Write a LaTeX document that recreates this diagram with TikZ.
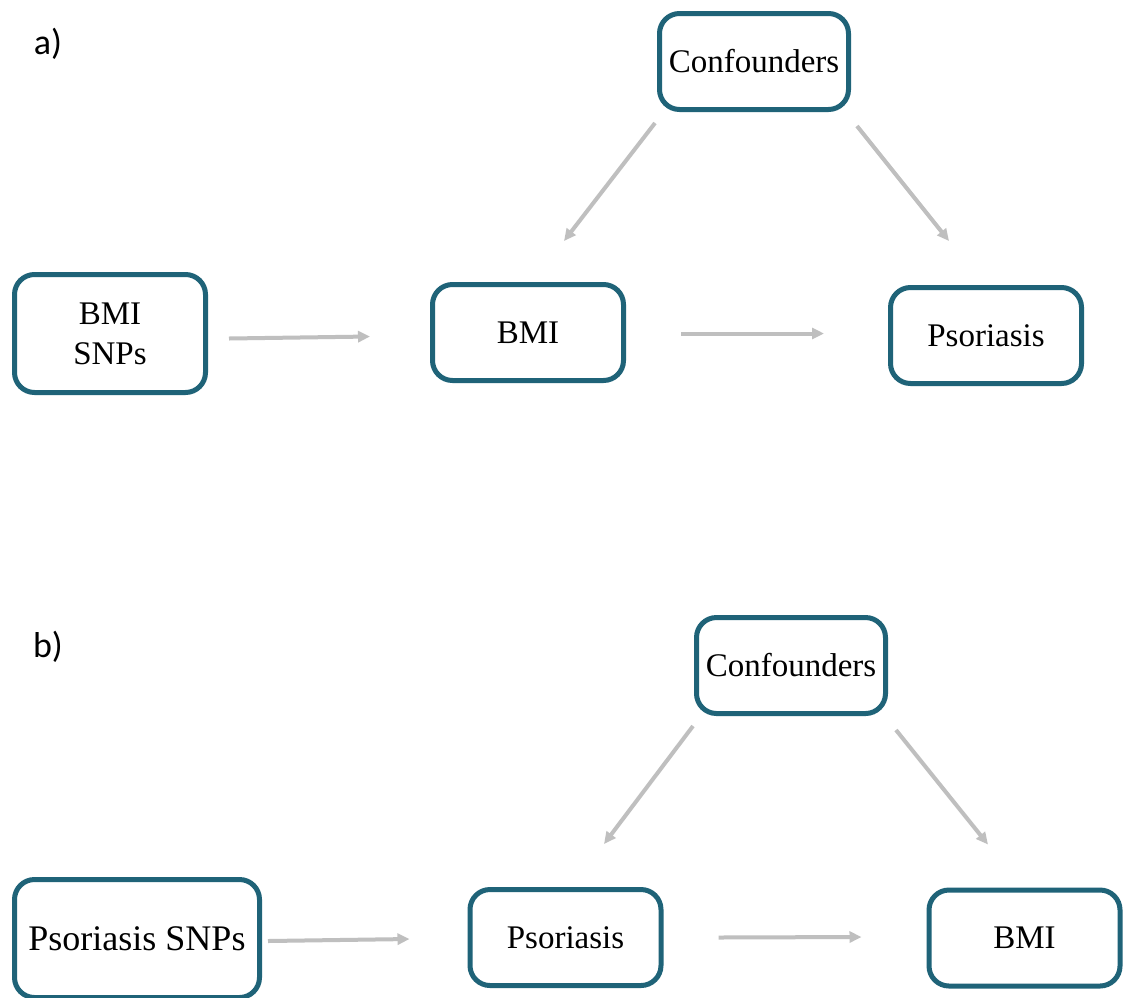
\documentclass[tikz,border=0pt]{standalone}
\usepackage{fontspec}
\setmainfont{Liberation Serif}
\newfontfamily\labelfont{Carlito}
\usepackage{tikz}
\usetikzlibrary{
  arrows.meta,
  positioning,  % Function "of"
  calc,         % Calculations $...$
}
\definecolor{boxteal}{RGB}{31,99,120}
\definecolor{arrowgray}{RGB}{191,191,191}
\def\mywidth{191pt}
\def\myheight{96pt}
\tikzset{
  semithick,
  my box/.style={
    draw=boxteal,
    line width=5pt,
    rounded corners=20pt,
    minimum width=\mywidth,
    minimum height=\myheight,
    inner sep=0pt,
    align=center,
    font=\fontsize{33}{40}\selectfont,
    rectangle
  },
  my box high/.style={
    my box,
    minimum height=118pt
  },
  my arrow/.style={
    draw=arrowgray,
    line width=4pt,
    -{Triangle[length=12pt,width=11pt]}
  },
  panel label/.style={
    font=\labelfont\fontsize{36}{42}\selectfont,
    inner sep=0pt
  }
}
\begin{document}
\begin{tikzpicture}[x=1pt,y=-1pt]
\useasboundingbox[fill=white] (0,0) rectangle (1129,997);
% a)
\node[panel label] (la) at (48,44) {a)};
\node[my box,minimum width=189pt] (ca) at (754,61.5) {Confounders};
\node[my box high] (sa) at (110,333.5) {BMI\\SNPs};
\node[my box] (ba) at (528,332.5) {BMI};
\node[my box] (pa) at (986,335.5) {Psoriasis};
\draw[my arrow] ($(sa.east)+(21,5)$) -- ($(ba.west)+(-60,4)$);
\draw[my arrow] ($(ba.east)+(55,1)$) -- ($(pa.west)+(-64,-2)$);
\draw[my arrow] ($(ca.south west)+(-2,11)$) -- ($(ba.north)+(36,-41)$);
\draw[my arrow] ($(ca.south east)+(6,14)$) -- ($(pa.north)+(-37,-44)$);
% b)
\node[panel label] (lb) at (48,647) {b)};
\node[my box,minimum width=189pt] (cb) at (791,665.5) {Confounders};
\node[my box high,minimum width=245pt,font=\fontsize{36}{42}\selectfont] (sb) at (137,938.5) {Psoriasis SNPs};
\node[my box] (pb) at (565.5,937.5) {Psoriasis};
\node[my box] (mb) at (1024.5,938) {BMI};
\draw[my arrow] ($(sb.east)+(6,2.5)$) -- ($(pb.west)+(-58,1.5)$);
\draw[my arrow] ($(pb.east)+(55,0)$) -- ($(mb.west)+(-65,-1)$);
\draw[my arrow] ($(cb.south west)+(-1,10)$) -- ($(pb.north)+(38.5,-43)$);
\draw[my arrow] ($(cb.south east)+(8,14)$) -- ($(mb.north)+(-36.5,-43)$);
\end{tikzpicture}
\end{document}
